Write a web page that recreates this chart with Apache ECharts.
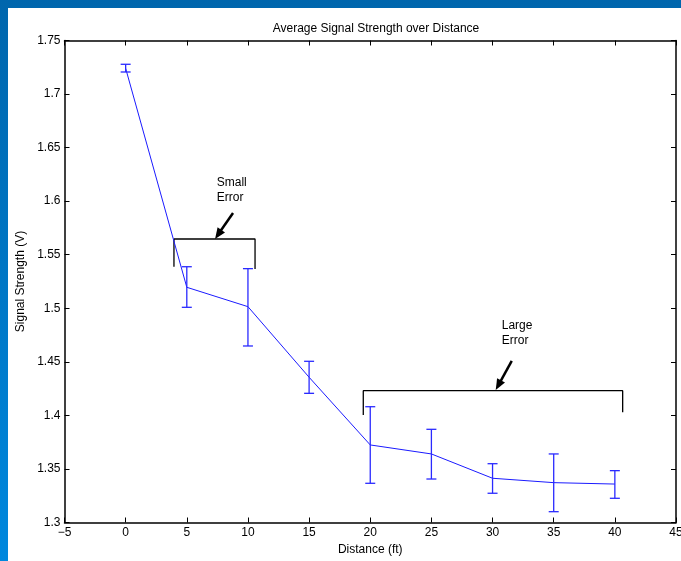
<!DOCTYPE html>
<html>
<head>
<meta charset="utf-8">
<script src="https://cdn.jsdelivr.net/npm/echarts@6/dist/echarts.min.js"></script>
<style>
  html, body { margin: 0; padding: 0; }
  #frame { position: relative; width: 681px; height: 561px; background: linear-gradient(to bottom, #0066ad, #0088de); overflow: hidden; }
  #paper { position: absolute; left: 8px; top: 8px; right: 0; bottom: 0; background: #ffffff; }
  #chart { position: absolute; left: 0; top: 0; width: 681px; height: 561px; }
</style>
</head>
<body>
<div id="frame"><div id="paper"></div><div id="chart"></div></div>
<script>
// ---- data ----
const distances = [0, 5, 10, 15, 20, 25, 30, 35, 40];
const meanSignal = [1.724, 1.5196, 1.5015, 1.4356, 1.3724, 1.364, 1.3413, 1.3372, 1.3359];
const errLow = [1.7206, 1.5009, 1.4648, 1.4206, 1.3366, 1.3406, 1.3273, 1.3101, 1.3226];
const errHigh = [1.7278, 1.5388, 1.537, 1.4505, 1.4081, 1.387, 1.3549, 1.364, 1.3484];
const xTicks = [-5, 0, 5, 10, 15, 20, 25, 30, 35, 40, 45];
const yTicks = [1.3, 1.35, 1.4, 1.45, 1.5, 1.55, 1.6, 1.65, 1.7, 1.75];

// annotation geometry in data units
const smallBracketX = [3.95, 3.95, 10.58, 10.58];
const smallBracketY = [1.5388, 1.5647, 1.5647, 1.5367];
const largeBracketX = [19.43, 19.43, 40.64, 40.64];
const largeBracketY = [1.4004, 1.4231, 1.4231, 1.4029];
const arrowStarts = [[8.78, 1.589], [31.57, 1.4508]];
const arrowEnds = [[7.31, 1.5647], [30.26, 1.4237]];
const noteTexts = ['Small\nError', 'Large\nError'];
const notePos = [[7.45, 1.6105], [30.75, 1.4765]];

const FONT = '"Liberation Sans", Arial, Helvetica, sans-serif';
const chart = echarts.init(document.getElementById('chart'), null, { renderer: 'canvas' });

const fmt = v => String(v).replace('-', '\u2212');

const axisCommon = {
  type: 'value',
  axisLine: { show: true, onZero: false, lineStyle: { color: '#000', width: 1.5 } },
  axisTick: { show: true, inside: true, length: 5, lineStyle: { color: '#000', width: 1 } },
  splitLine: { show: false },
};

const option = {
  animation: false,
  backgroundColor: 'transparent',
  title: {
    text: 'Average Signal Strength over Distance',
    left: 371, top: 18, textAlign: 'center',
    textStyle: { fontFamily: FONT, fontSize: 12, fontWeight: 'normal', color: '#000' }
  },
  grid: { left: 64.5, top: 40.5, right: 5, bottom: 38.5, containLabel: false, outerBoundsMode: 'none' },
  xAxis: [
    Object.assign({}, axisCommon, {
      position: 'bottom', min: xTicks[0], max: xTicks[xTicks.length - 1], interval: xTicks[1] - xTicks[0],
      name: 'Distance (ft)', nameLocation: 'middle', nameGap: 20,
      nameTextStyle: { fontFamily: FONT, fontSize: 12, color: '#000' },
      axisLabel: { fontFamily: FONT, fontSize: 12, color: '#000', margin: 4, formatter: fmt, showMinLabel: true, showMaxLabel: true }
    }),
    Object.assign({}, axisCommon, {
      position: 'top', min: xTicks[0], max: xTicks[xTicks.length - 1], interval: xTicks[1] - xTicks[0],
      axisLabel: { show: false }
    })
  ],
  yAxis: [
    Object.assign({}, axisCommon, {
      position: 'left', min: yTicks[0], max: yTicks[yTicks.length - 1], interval: 0.05,
      name: 'Signal Strength (V)', nameLocation: 'middle', nameGap: 37, nameRotate: 90,
      nameTextStyle: { fontFamily: FONT, fontSize: 12, color: '#000' },
      axisLabel: { fontFamily: FONT, fontSize: 12, color: '#000', margin: 4, showMinLabel: true, showMaxLabel: true }
    }),
    Object.assign({}, axisCommon, {
      position: 'right', min: yTicks[0], max: yTicks[yTicks.length - 1], interval: 0.05,
      axisLabel: { show: false }
    })
  ],
  series: [
    {
      name: 'Mean', type: 'line', xAxisIndex: 0, yAxisIndex: 0,
      data: distances.map((d, i) => [d, meanSignal[i]]),
      showSymbol: false, symbol: 'none',
      lineStyle: { color: '#1a1aff', width: 1 }, z: 3
    },
    {
      name: 'Error', type: 'custom', xAxisIndex: 0, yAxisIndex: 0,
      data: distances.map((d, i) => [d, errLow[i], errHigh[i]]),
      renderItem: function (params, api) {
        const lo = api.coord([api.value(0), api.value(1)]);
        const hi = api.coord([api.value(0), api.value(2)]);
        const hw = 5;
        const style = { stroke: '#2a2aff', lineWidth: 1.3 };
        return {
          type: 'group',
          children: [
            { type: 'line', shape: { x1: lo[0], y1: lo[1], x2: hi[0], y2: hi[1] }, style: style },
            { type: 'line', shape: { x1: lo[0] - hw, y1: lo[1], x2: lo[0] + hw, y2: lo[1] }, style: style },
            { type: 'line', shape: { x1: hi[0] - hw, y1: hi[1], x2: hi[0] + hw, y2: hi[1] }, style: style }
          ]
        };
      },
      z: 4
    },
    {
      name: 'SmallBracket', type: 'line', data: smallBracketX.map((x, i) => [x, smallBracketY[i]]),
      showSymbol: false, symbol: 'none', lineStyle: { color: '#000', width: 1.3 }, z: 2
    },
    {
      name: 'LargeBracket', type: 'line', data: largeBracketX.map((x, i) => [x, largeBracketY[i]]),
      showSymbol: false, symbol: 'none', lineStyle: { color: '#000', width: 1.3 }, z: 2
    },
    {
      name: 'Arrows', type: 'custom',
      data: arrowStarts.map((s, i) => [s[0], s[1], arrowEnds[i][0], arrowEnds[i][1]]),
      renderItem: function (params, api) {
        const a = api.coord([api.value(0), api.value(1)]);
        const b = api.coord([api.value(2), api.value(3)]);
        const dx = b[0] - a[0], dy = b[1] - a[1];
        const len = Math.sqrt(dx * dx + dy * dy);
        const ux = dx / len, uy = dy / len;
        const headL = 11, headW = 4.5;
        const base = [b[0] - ux * headL, b[1] - uy * headL];
        const px = -uy, py = ux;
        return {
          type: 'group',
          children: [
            { type: 'line', shape: { x1: a[0], y1: a[1], x2: base[0] + ux * 2, y2: base[1] + uy * 2 }, style: { stroke: '#000', lineWidth: 2.5 } },
            { type: 'polygon', shape: { points: [[b[0], b[1]], [base[0] + px * headW, base[1] + py * headW], [base[0] - px * headW, base[1] - py * headW]] }, style: { fill: '#000' } }
          ]
        };
      },
      z: 5
    },
    {
      name: 'Notes', type: 'custom',
      data: notePos.map((p, i) => [p[0], p[1], i]),
      renderItem: function (params, api) {
        const p = api.coord([api.value(0), api.value(1)]);
        return {
          type: 'text',
          x: p[0], y: p[1],
          style: { text: noteTexts[api.value(2)], font: '12px ' + FONT, fill: '#000', align: 'left', verticalAlign: 'middle', lineHeight: 15 }
        };
      },
      z: 5
    }
  ]
};
chart.setOption(option);
</script>
</body>
</html>
